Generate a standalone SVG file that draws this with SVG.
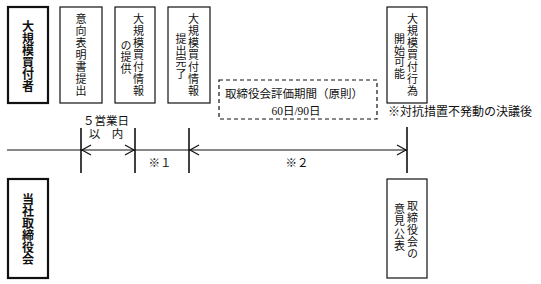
<svg xmlns="http://www.w3.org/2000/svg" width="541" height="284" viewBox="0 0 541 284">
<style>
.box{fill:#fff;stroke:#111;stroke-width:1.2}
.actor{fill:#fff;stroke:#111;stroke-width:2.2}
.v{writing-mode:vertical-rl;text-orientation:upright;font-family:"Noto Sans CJK JP","Liberation Serif",serif;font-size:11px;fill:#111;letter-spacing:1px}
.vs{letter-spacing:0.5px}
.vb{writing-mode:vertical-rl;text-orientation:upright;font-family:"Noto Sans CJK JP","Liberation Sans",sans-serif;font-size:12px;font-weight:bold;fill:#111}
.t{font-family:"Liberation Serif","Noto Sans CJK JP",serif;font-size:11.5px;fill:#111}
.line{stroke:#111;stroke-width:1.2;fill:none}
.tick{stroke:#111;stroke-width:1.6}
.ah{fill:none;stroke:#111;stroke-width:1.2}
</style>
<g id="buyer">
<rect class="actor" x="8" y="7" width="40" height="96"/>
<text class="vb" x="28" y="20">大規模買付者</text>
</g>
<g id="intent">
<rect class="box" x="60" y="7" width="42" height="96"/>
<text class="v" x="81" y="13">意向表明書提出</text>
</g>
<g id="info">
<rect class="box" x="115" y="7" width="40" height="96"/>
<text class="v" x="138.5" y="13">大規模買付情報</text>
<text class="v vs" x="126" y="40">の提供</text>
</g>
<g id="infodone">
<rect class="box" x="168" y="7" width="42" height="96"/>
<text class="v" x="193.5" y="13">大規模買付情報</text>
<text class="v vs" x="181" y="33.5">提出完了</text>
</g>
<g id="start">
<rect class="box" x="387" y="7" width="40" height="96"/>
<text class="v" x="412.5" y="13">大規模買付行為</text>
<text class="v vs" x="399.5" y="33.5">開始可能</text>
</g>
<g id="period">
<rect x="219" y="80" width="158" height="39" fill="#fff" stroke="#111" stroke-width="1.2" stroke-dasharray="4,3"/>
<text class="t" x="294" y="98" text-anchor="middle">取締役会評価期間（原則）</text>
<text class="t" x="296" y="115" text-anchor="middle">60日/90日</text>
</g>
<g id="note">
<text class="t" x="388" y="116" style="font-size:12px">※対抗措置不発動の決議後</text>
</g>
<g id="board">
<rect class="actor" x="8" y="179" width="40" height="99"/>
<text class="vb" x="28" y="193">当社取締役会</text>
</g>
<g id="opinion">
<rect class="box" x="387" y="179" width="40" height="99"/>
<text class="v" x="412.5" y="200">取締役会の</text>
<text class="v" x="399.5" y="203" style="letter-spacing:1.5px">意見公表</text>
</g>
<g id="connectors">
<line class="line" x1="7" y1="150" x2="407" y2="150"/>
<line class="tick" x1="81" y1="128" x2="81" y2="173"/>
<line class="tick" x1="135" y1="128" x2="135" y2="173"/>
<line class="tick" x1="189" y1="128" x2="189" y2="173"/>
<line class="tick" x1="407" y1="127" x2="407" y2="173"/>
<polyline class="ah" points="91,145 82,150 91,155"/>
<polyline class="ah" points="125,145 134,150 125,155"/>
<polyline class="ah" points="199,145 190,150 199,155"/>
<polyline class="ah" points="397,145 406,150 397,155"/>
<text class="t" x="106" y="125" text-anchor="middle">５営業日</text>
<text class="t" x="106" y="138" text-anchor="middle">以　内</text>
<text class="t" x="160" y="167" text-anchor="middle">※１</text>
<text class="t" x="297" y="167" text-anchor="middle">※２</text>
</g>
</svg>
